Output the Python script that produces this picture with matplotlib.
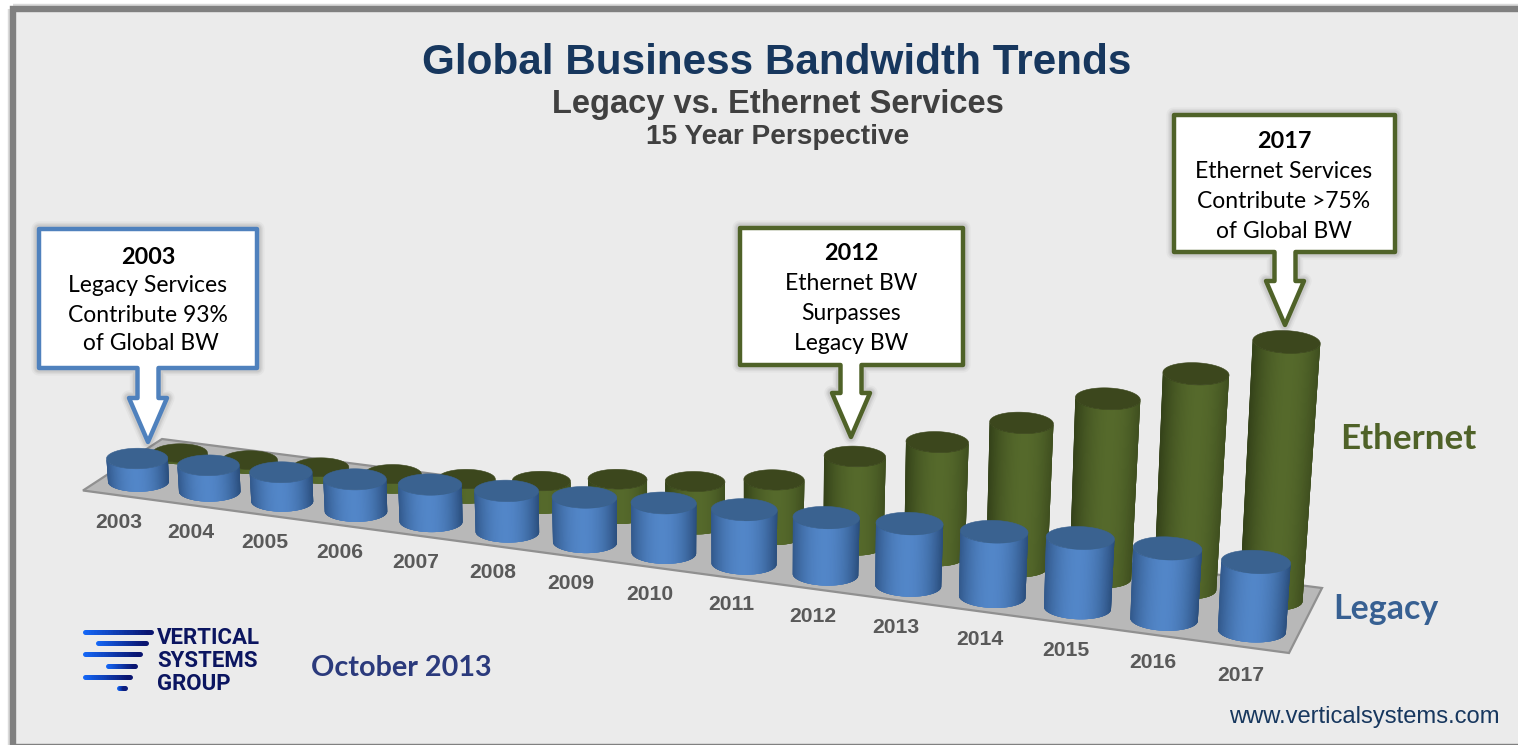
import numpy as np
import matplotlib
matplotlib.use("Agg")
import matplotlib.pyplot as plt
from matplotlib.collections import PolyCollection, LineCollection
from matplotlib.patches import Polygon, Rectangle
from matplotlib.colors import to_rgb

# ---- data (column heights, in chart units) ----
years = [2003, 2004, 2005, 2006, 2007, 2008, 2009, 2010, 2011, 2012, 2013, 2014, 2015, 2016, 2017]
legacy = [23, 26, 29, 32, 37, 41, 45, 50, 54, 57, 62, 65, 70, 71, 69]
ethernet = [2, 4.5, 7, 10, 15, 23, 35, 43, 55, 89, 114, 144, 179, 215, 258]

title = "Global Business Bandwidth Trends"
subtitle = "Legacy vs. Ethernet Services"
subsubtitle = "15 Year Perspective"

BG = "#EBEBEB"
BLUE_LINE = "#4F81BD"
GREEN_LINE = "#4F6228"

fig = plt.figure(figsize=(15.18, 7.45), dpi=100, facecolor="white")
ax = fig.add_axes([0, 0, 1, 1])
ax.set_xlim(0, 1518)
ax.set_ylim(745, 0)
ax.axis("off")

# frame
ax.add_patch(Rectangle((13.3, 8.5), 1520, 738, fc="none", ec="#DADADA", lw=7.5, zorder=0))
ax.add_patch(Rectangle((13.3, 8.5), 1520, 738, fc=BG, ec="#808080", lw=4.6, zorder=0.1))

# floor
ax.add_patch(Polygon([(83, 490.5), (162, 439), (1322, 588), (1289, 653)], closed=True,
                     fc="#B8B8B8", ec="#909090", lw=1.6, zorder=1))


def row(i, p):
    return p[0] + p[1] * i + p[2] * i * i


def cylinder(i, h, xp, yp, rx0, rx1, edge, mid, top, z, peak):
    bx, by = row(i, xp), row(i, yp)
    rxb = rx0 + (rx1 - rx0) * i / 14
    rxt = rxb * (1 + 2.8e-4 * h)
    lean = (bx - 700) * 1.05e-4 * h
    tx, ty = bx + lean, by - h
    ratio = 0.335
    theta = np.linspace(np.pi, 0, 81)
    e, m = np.array(to_rgb(edge)), np.array(to_rgb(mid))

    def rim(cx, cy, rx, th):
        slope = (cx - 300) * 4.6e-5
        return cx + rx * np.cos(th), cy + ratio * rx * np.sin(th) + slope * rx * np.cos(th)

    xb, yb = rim(bx, by, rxb, theta)
    xt, yt = rim(tx, ty, rxt, theta)
    polys, cols = [], []
    n = len(theta)
    for k in range(n - 1):
        # each strip runs a little under the next one, so that no seam shows
        last = min(k + 4, n - 1)
        idx = range(k, last + 1)
        polys.append([(xb[j], yb[j]) for j in idx] + [(xt[j], yt[j]) for j in reversed(idx)])
        s = 0.5 * (np.cos(theta[k]) + np.cos(theta[k + 1]))
        w = max(0.0, 1 - (abs(s - peak) / (1 + abs(peak))) ** 2.0)
        cols.append(e + (m - e) * w)
    ax.add_collection(PolyCollection(polys, facecolors=cols, edgecolors="none", zorder=z))
    full = np.linspace(0, 2 * np.pi, 120)
    xc, yc = rim(tx, ty, rxt, full)
    ax.add_patch(Polygon(np.column_stack([xc, yc]), closed=True, fc=top, ec=top, lw=0.4, zorder=z + 0.1))


ETH_X = (180, 69.25, 0.62)
ETH_Y = (455, 9.5, 0.061)
LEG_X = (138.5, 70.57, 0.64)
LEG_Y = (481.5, 9.75, 0.066)
for i, v in enumerate(ethernet):
    cylinder(i, v, ETH_X, ETH_Y, 27.5, 31.5, "#344219", "#55692B", "#3C471D", 2 + i * 0.01, 0.1)
for i, v in enumerate(legacy):
    cylinder(i, v, LEG_X, LEG_Y, 30.5, 34, "#2B4F7E", "#5286C8", "#3A6290", 3 + i * 0.01, -0.05)

# year labels
for i, y in enumerate(years):
    ax.text(row(i, (119, 71.7, 0.6)), row(i, (523, 9.43, 0.102)), str(y), ha="center", va="center",
            family="Liberation Sans", weight="bold", fontsize=15.2, color="#595959", zorder=5)

# titles
ax.text(777, 63.5, title, ha="center", va="center", family="Liberation Sans", weight="bold",
        fontsize=30.4, color="#17375E", zorder=5)
ax.text(778, 104, subtitle, ha="center", va="center", family="Liberation Sans", weight="bold",
        fontsize=23.5, color="#404040", zorder=5)
ax.text(778, 137, subsubtitle, ha="center", va="center", family="Liberation Sans", weight="bold",
        fontsize=20.2, color="#404040", zorder=5)


def callout(x0, x1, y0, y1, cx, tip, color, lines, ys, tx):
    wing_y = tip - 44
    pts = [(x0, y0), (x1, y0), (x1, y1), (cx + 10.5, y1), (cx + 10.5, wing_y), (cx + 19, wing_y), (cx, tip),
           (cx - 19, wing_y), (cx - 10.5, wing_y), (cx - 10.5, y1), (x0, y1)]
    for lw, a in [(11, 0.05), (8.5, 0.07), (6.5, 0.10)]:
        ax.add_patch(Polygon(pts, closed=True, fc="none", ec="#555555", lw=lw, alpha=a,
                             joinstyle="round", zorder=6))
    ax.add_patch(Polygon(pts, closed=True, fc="white", ec=color, lw=3.2, joinstyle="round", zorder=7))
    for k, (t, y) in enumerate(zip(lines, ys)):
        ax.text(tx, y, t, ha="center", va="center", family="Lato",
                weight="bold" if k == 0 else "normal", fontsize=16.8 if k == 0 else 16.5,
                color="black", zorder=8)


callout(39, 257, 229, 368, 148, 442, BLUE_LINE,
        ["2003", "Legacy Services", "Contribute 93%", " of Global BW"], [257, 286, 315, 344], 148)
callout(740, 963, 228, 365, 851, 437, GREEN_LINE,
        ["2012", "Ethernet BW", "Surpasses", "Legacy BW"], [254, 284, 314, 344], 851)
callout(1174, 1395, 115, 252, 1285, 325, GREEN_LINE,
        ["2017", "Ethernet Services", "Contribute >75%", "of Global BW"], [141, 171, 201, 231], 1284)

# series labels
ax.text(1408, 439, "Ethernet", ha="center", va="center", family="Lato", weight="bold",
        fontsize=25.2, color="#4F6228", zorder=5)
ax.text(1386, 609, "Legacy", ha="center", va="center", family="Lato", weight="bold",
        fontsize=24.4, color="#376092", zorder=5)
ax.text(401, 668, "October 2013", ha="center", va="center", family="Lato", weight="bold",
        fontsize=20.7, color="#2B3A7C", zorder=5)
ax.text(1364, 717, "www.verticalsystems.com", ha="center", va="center", family="Liberation Sans",
        fontsize=17.1, color="#17375E", zorder=5)

# logo
stripes = [(85, 151, 632), (98, 146, 643), (85, 140, 654), (108, 135, 666), (85, 130, 677), (119, 125, 688)]
c0, c1 = np.array(to_rgb("#1466F5")), np.array(to_rgb("#0A1570"))
for x0, x1, y in stripes:
    xs = np.linspace(x0, x1, 25)
    segs = [[(xs[k], y), (xs[k + 1], y)] for k in range(24)]
    cols = [c0 + (c1 - c0) * (k / 23) for k in range(24)]
    ax.add_collection(LineCollection(segs, colors=cols, linewidths=3.6, capstyle="round", zorder=5))
for t, y in [("VERTICAL", 638), ("SYSTEMS", 661), ("GROUP", 684)]:
    ax.text(157, y, t, ha="left", va="center", family="Roboto", weight="bold", fontsize=16,
            color="#0B1560", zorder=5)

fig.savefig("out.png", dpi=100, facecolor="white")
